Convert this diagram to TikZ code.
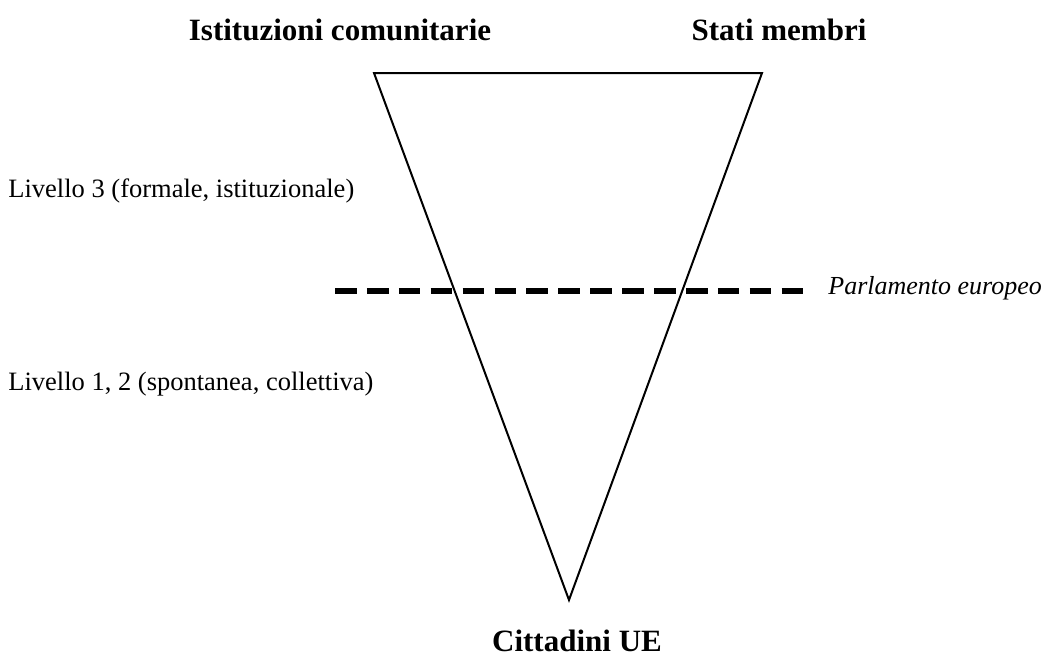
\documentclass[tikz,border=0pt]{standalone}
\usepackage{fontspec}
\setmainfont{Liberation Serif}[BoldFont={* Bold},ItalicFont={* Italic}]
\tikzset{
  level/.style={anchor=base west,inner sep=0pt,font=\fontsize{26.5}{30}\selectfont},
  actor/.style={anchor=base,inner sep=0pt,font=\fontsize{31}{36}\selectfont\bfseries},
}
\begin{document}
\begin{tikzpicture}[x=1pt,y=-1pt,style=thick]
    \useasboundingbox (0,0) rectangle (1045,659);
    \coordinate (T1) at (374,73);
    \coordinate (T2) at (762,73);
    \coordinate (T3) at (569,600);
    \coordinate (P1) at (335,291);
    \coordinate (P2) at (803,291);

    \draw[line width=2pt,line join=miter] (T1) -- (T2) -- (T3) -- cycle;
    \draw[line width=6.5pt,dash pattern=on 21.6pt off 10.3pt] (P1) -- (P2);
    \node [level,font=\fontsize{26}{30}\selectfont\itshape,xshift=25pt,yshift=-3pt] (PE) at (P2) {Parlamento europeo};

    \node [actor] (IC) at (340,40) {Istituzioni comunitarie};
    \node [actor] (SM) at (779,40) {Stati membri};
    \node [actor] (CU) at (577,651) {Cittadini UE};

    \node [level] (L3) at (8,197) {Livello 3 (formale, istituzionale)};
    \node [level] (L12) at (8,390) {Livello 1, 2 (spontanea, collettiva)};
\end{tikzpicture}
\end{document}
